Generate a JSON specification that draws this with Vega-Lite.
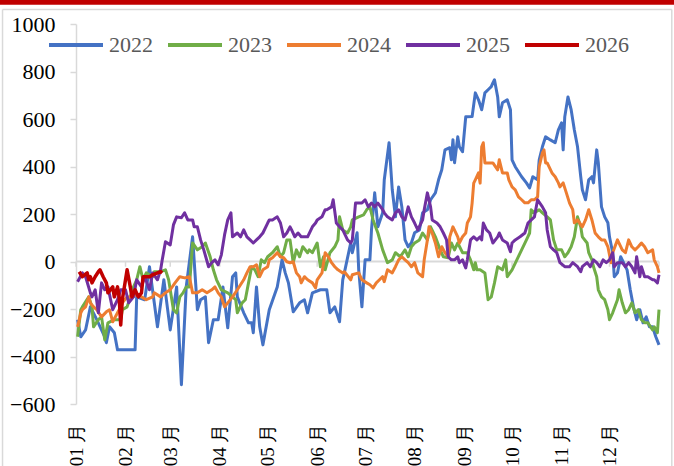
{
"$schema": "https://vega.github.io/schema/vega-lite/v6.json",
"width": 583, "height": 380,
"autosize": "none",
"padding": {"left": 76, "top": 24, "right": 15, "bottom": 62},
"background": "white",
"config": {"view": {"stroke": null}, "font": "Liberation Serif"},
"datasets": {
"months": [{"t":0},{"t":31},{"t":59},{"t":90},{"t":120},{"t":151},{"t":181},{"t":212},{"t":243},{"t":273},{"t":304},{"t":334},{"t":365}],
"y2022": [{"t":1,"v":-245},{"t":3,"v":-317},{"t":6,"v":-288},{"t":9,"v":-191},{"t":13,"v":-245},{"t":18,"v":-317},{"t":19,"v":-342},{"t":21,"v":-275},{"t":24,"v":-300},{"t":26,"v":-372},{"t":37,"v":-372},{"t":38,"v":-149},{"t":43,"v":-161},{"t":46,"v":-22},{"t":51,"v":-275},{"t":55,"v":-77},{"t":59,"v":-288},{"t":63,"v":-107},{"t":66,"v":-519},{"t":69,"v":-107},{"t":73,"v":104},{"t":76,"v":-203},{"t":78,"v":-161},{"t":81,"v":-149},{"t":83,"v":-342},{"t":86,"v":-245},{"t":89,"v":-245},{"t":92,"v":-107},{"t":95,"v":-279},{"t":98,"v":-64},{"t":100,"v":-48},{"t":101,"v":-149},{"t":105,"v":-216},{"t":108,"v":-258},{"t":110,"v":-258},{"t":111,"v":-300},{"t":113,"v":-107},{"t":115,"v":-275},{"t":117,"v":-351},{"t":121,"v":-203},{"t":126,"v":-107},{"t":129,"v":7},{"t":131,"v":-48},{"t":133,"v":-90},{"t":136,"v":-212},{"t":140,"v":-174},{"t":143,"v":-161},{"t":145,"v":-216},{"t":148,"v":-132},{"t":153,"v":-119},{"t":157,"v":-119},{"t":159,"v":-216},{"t":162,"v":-191},{"t":165,"v":-254},{"t":167,"v":-77},{"t":168,"v":-48},{"t":172,"v":79},{"t":173,"v":37},{"t":176,"v":121},{"t":177,"v":-35},{"t":179,"v":-191},{"t":181,"v":7},{"t":184,"v":7},{"t":185,"v":133},{"t":187,"v":289},{"t":189,"v":146},{"t":192,"v":205},{"t":193,"v":344},{"t":196,"v":500},{"t":198,"v":302},{"t":200,"v":188},{"t":202,"v":314},{"t":204,"v":230},{"t":206,"v":91},{"t":208,"v":62},{"t":210,"v":79},{"t":212,"v":121},{"t":215,"v":133},{"t":217,"v":205},{"t":220,"v":218},{"t":222,"v":260},{"t":225,"v":289},{"t":227,"v":344},{"t":229,"v":386},{"t":231,"v":470},{"t":234,"v":479},{"t":235,"v":428},{"t":236,"v":513},{"t":237,"v":416},{"t":239,"v":525},{"t":240,"v":483},{"t":242,"v":462},{"t":244,"v":609},{"t":245,"v":609},{"t":248,"v":610},{"t":250,"v":710},{"t":252,"v":681},{"t":254,"v":639},{"t":256,"v":710},{"t":258,"v":723},{"t":260,"v":736},{"t":261,"v":752},{"t":262,"v":765},{"t":264,"v":693},{"t":265,"v":609},{"t":267,"v":668},{"t":270,"v":681},{"t":272,"v":639},{"t":273,"v":428},{"t":275,"v":399},{"t":279,"v":357},{"t":282,"v":331},{"t":284,"v":310},{"t":286,"v":357},{"t":289,"v":344},{"t":290,"v":428},{"t":292,"v":483},{"t":294,"v":525},{"t":297,"v":512},{"t":300,"v":500},{"t":302,"v":554},{"t":304,"v":584},{"t":305,"v":470},{"t":306,"v":609},{"t":308,"v":693},{"t":310,"v":639},{"t":312,"v":554},{"t":314,"v":483},{"t":316,"v":357},{"t":317,"v":302},{"t":319,"v":260},{"t":321,"v":344},{"t":323,"v":357},{"t":324,"v":331},{"t":326,"v":470},{"t":327,"v":416},{"t":329,"v":230},{"t":331,"v":188},{"t":333,"v":163},{"t":334,"v":104},{"t":336,"v":37},{"t":337,"v":-64},{"t":339,"v":-48},{"t":341,"v":20},{"t":342,"v":7},{"t":345,"v":-35},{"t":347,"v":-119},{"t":349,"v":-191},{"t":351,"v":-245},{"t":353,"v":-203},{"t":355,"v":-258},{"t":357,"v":-233},{"t":359,"v":-275},{"t":361,"v":-275},{"t":363,"v":-317},{"t":365,"v":-351}],
"y2023": [{"t":1,"v":-317},{"t":3,"v":-203},{"t":4,"v":-191},{"t":8,"v":-149},{"t":10,"v":-191},{"t":11,"v":-275},{"t":14,"v":-245},{"t":16,"v":-233},{"t":18,"v":-330},{"t":20,"v":-258},{"t":24,"v":-245},{"t":28,"v":-245},{"t":29,"v":-203},{"t":32,"v":-191},{"t":34,"v":-149},{"t":36,"v":-107},{"t":38,"v":-77},{"t":40,"v":-22},{"t":42,"v":-77},{"t":44,"v":-48},{"t":48,"v":-64},{"t":49,"v":-43},{"t":53,"v":-43},{"t":56,"v":-35},{"t":58,"v":-77},{"t":61,"v":-203},{"t":63,"v":-216},{"t":65,"v":-149},{"t":67,"v":-132},{"t":69,"v":-107},{"t":71,"v":-107},{"t":73,"v":78},{"t":76,"v":49},{"t":79,"v":62},{"t":81,"v":78},{"t":84,"v":20},{"t":86,"v":-35},{"t":88,"v":-77},{"t":91,"v":-119},{"t":95,"v":-132},{"t":98,"v":-149},{"t":100,"v":-161},{"t":101,"v":-216},{"t":104,"v":-174},{"t":106,"v":-161},{"t":108,"v":-90},{"t":110,"v":-22},{"t":112,"v":-35},{"t":114,"v":-64},{"t":116,"v":7},{"t":118,"v":-5},{"t":120,"v":20},{"t":123,"v":37},{"t":126,"v":62},{"t":128,"v":20},{"t":130,"v":37},{"t":132,"v":91},{"t":134,"v":91},{"t":136,"v":-5},{"t":138,"v":49},{"t":140,"v":20},{"t":142,"v":62},{"t":145,"v":37},{"t":146,"v":49},{"t":148,"v":37},{"t":151,"v":78},{"t":153,"v":-22},{"t":155,"v":20},{"t":156,"v":-35},{"t":159,"v":37},{"t":162,"v":62},{"t":164,"v":91},{"t":165,"v":188},{"t":167,"v":133},{"t":170,"v":120},{"t":172,"v":146},{"t":173,"v":175},{"t":177,"v":188},{"t":180,"v":196},{"t":182,"v":218},{"t":184,"v":230},{"t":186,"v":175},{"t":189,"v":120},{"t":192,"v":49},{"t":195,"v":-5},{"t":198,"v":7},{"t":200,"v":37},{"t":203,"v":20},{"t":206,"v":49},{"t":208,"v":20},{"t":210,"v":62},{"t":212,"v":78},{"t":215,"v":91},{"t":217,"v":120},{"t":220,"v":91},{"t":222,"v":146},{"t":225,"v":104},{"t":228,"v":49},{"t":230,"v":20},{"t":233,"v":16},{"t":235,"v":78},{"t":237,"v":49},{"t":239,"v":78},{"t":242,"v":37},{"t":245,"v":37},{"t":247,"v":7},{"t":249,"v":-35},{"t":250,"v":-5},{"t":251,"v":-35},{"t":253,"v":-35},{"t":256,"v":-48},{"t":258,"v":-161},{"t":260,"v":-149},{"t":262,"v":-90},{"t":264,"v":-22},{"t":267,"v":-35},{"t":269,"v":7},{"t":270,"v":-64},{"t":273,"v":-35},{"t":276,"v":7},{"t":279,"v":49},{"t":282,"v":91},{"t":284,"v":120},{"t":285,"v":218},{"t":287,"v":205},{"t":290,"v":218},{"t":292,"v":205},{"t":295,"v":188},{"t":297,"v":175},{"t":299,"v":91},{"t":301,"v":49},{"t":304,"v":49},{"t":306,"v":20},{"t":308,"v":37},{"t":310,"v":62},{"t":312,"v":104},{"t":314,"v":188},{"t":316,"v":146},{"t":317,"v":104},{"t":320,"v":78},{"t":321,"v":37},{"t":323,"v":7},{"t":324,"v":-22},{"t":326,"v":-64},{"t":327,"v":-119},{"t":329,"v":-149},{"t":331,"v":-161},{"t":333,"v":-203},{"t":334,"v":-245},{"t":336,"v":-216},{"t":339,"v":-161},{"t":340,"v":-119},{"t":342,"v":-174},{"t":344,"v":-216},{"t":346,"v":-203},{"t":348,"v":-174},{"t":350,"v":-216},{"t":352,"v":-203},{"t":354,"v":-245},{"t":356,"v":-258},{"t":358,"v":-258},{"t":361,"v":-288},{"t":362,"v":-275},{"t":364,"v":-300},{"t":365,"v":-203}],
"y2024": [{"t":1,"v":-275},{"t":3,"v":-216},{"t":4,"v":-203},{"t":6,"v":-191},{"t":8,"v":-149},{"t":9,"v":-174},{"t":11,"v":-191},{"t":13,"v":-203},{"t":16,"v":-233},{"t":19,"v":-212},{"t":21,"v":-203},{"t":23,"v":-254},{"t":26,"v":-216},{"t":28,"v":-191},{"t":29,"v":-174},{"t":32,"v":-149},{"t":35,"v":-149},{"t":38,"v":-140},{"t":41,"v":-149},{"t":44,"v":-161},{"t":48,"v":-149},{"t":49,"v":-132},{"t":53,"v":-149},{"t":56,"v":-132},{"t":59,"v":-119},{"t":62,"v":-90},{"t":65,"v":-64},{"t":68,"v":-69},{"t":71,"v":-64},{"t":73,"v":-132},{"t":76,"v":-132},{"t":79,"v":-119},{"t":82,"v":-132},{"t":85,"v":-119},{"t":87,"v":-107},{"t":89,"v":-132},{"t":91,"v":-149},{"t":93,"v":-191},{"t":95,"v":-174},{"t":98,"v":-149},{"t":101,"v":-119},{"t":105,"v":-77},{"t":107,"v":-48},{"t":109,"v":-22},{"t":111,"v":-22},{"t":113,"v":-14},{"t":115,"v":-64},{"t":117,"v":-35},{"t":120,"v":-22},{"t":121,"v":7},{"t":123,"v":16},{"t":126,"v":37},{"t":128,"v":20},{"t":130,"v":16},{"t":132,"v":-1},{"t":134,"v":-5},{"t":136,"v":-1},{"t":138,"v":-48},{"t":140,"v":-64},{"t":141,"v":-90},{"t":143,"v":-64},{"t":145,"v":-77},{"t":148,"v":-90},{"t":150,"v":-111},{"t":151,"v":-77},{"t":154,"v":-48},{"t":156,"v":37},{"t":158,"v":20},{"t":160,"v":-5},{"t":162,"v":-22},{"t":164,"v":-35},{"t":167,"v":-48},{"t":168,"v":-43},{"t":172,"v":-77},{"t":173,"v":-56},{"t":177,"v":-48},{"t":179,"v":-77},{"t":182,"v":-90},{"t":184,"v":-98},{"t":186,"v":-111},{"t":188,"v":-90},{"t":190,"v":-77},{"t":192,"v":-64},{"t":193,"v":-85},{"t":195,"v":-35},{"t":198,"v":-48},{"t":200,"v":-22},{"t":202,"v":7},{"t":204,"v":20},{"t":206,"v":7},{"t":208,"v":-5},{"t":210,"v":-22},{"t":212,"v":-5},{"t":214,"v":-48},{"t":217,"v":-64},{"t":218,"v":7},{"t":220,"v":91},{"t":221,"v":146},{"t":223,"v":120},{"t":225,"v":78},{"t":227,"v":20},{"t":229,"v":62},{"t":231,"v":37},{"t":233,"v":20},{"t":234,"v":104},{"t":236,"v":146},{"t":239,"v":104},{"t":240,"v":78},{"t":242,"v":104},{"t":244,"v":120},{"t":245,"v":162},{"t":247,"v":188},{"t":248,"v":246},{"t":249,"v":330},{"t":250,"v":344},{"t":252,"v":373},{"t":253,"v":330},{"t":254,"v":483},{"t":255,"v":500},{"t":256,"v":415},{"t":258,"v":415},{"t":261,"v":415},{"t":264,"v":386},{"t":265,"v":428},{"t":267,"v":373},{"t":270,"v":373},{"t":271,"v":344},{"t":273,"v":314},{"t":275,"v":302},{"t":277,"v":272},{"t":279,"v":260},{"t":281,"v":247},{"t":283,"v":247},{"t":285,"v":260},{"t":287,"v":260},{"t":289,"v":272},{"t":290,"v":399},{"t":292,"v":457},{"t":293,"v":470},{"t":294,"v":415},{"t":295,"v":415},{"t":298,"v":373},{"t":300,"v":357},{"t":302,"v":331},{"t":303,"v":314},{"t":305,"v":331},{"t":307,"v":289},{"t":309,"v":246},{"t":311,"v":218},{"t":312,"v":163},{"t":314,"v":175},{"t":317,"v":146},{"t":319,"v":175},{"t":321,"v":218},{"t":323,"v":175},{"t":325,"v":120},{"t":327,"v":104},{"t":329,"v":91},{"t":331,"v":91},{"t":333,"v":62},{"t":335,"v":-5},{"t":336,"v":37},{"t":339,"v":91},{"t":342,"v":49},{"t":344,"v":37},{"t":346,"v":91},{"t":348,"v":62},{"t":350,"v":49},{"t":352,"v":62},{"t":354,"v":78},{"t":356,"v":62},{"t":358,"v":37},{"t":361,"v":49},{"t":362,"v":7},{"t":364,"v":-22},{"t":365,"v":-48}],
"y2025": [{"t":1,"v":-85},{"t":4,"v":-48},{"t":6,"v":-64},{"t":9,"v":-132},{"t":10,"v":-149},{"t":12,"v":-119},{"t":14,"v":-216},{"t":16,"v":-90},{"t":18,"v":-119},{"t":20,"v":-107},{"t":23,"v":-203},{"t":26,"v":-161},{"t":28,"v":-119},{"t":31,"v":-119},{"t":33,"v":-174},{"t":36,"v":-149},{"t":38,"v":-77},{"t":41,"v":-107},{"t":43,"v":-64},{"t":46,"v":-119},{"t":48,"v":-48},{"t":51,"v":-77},{"t":53,"v":-35},{"t":54,"v":7},{"t":56,"v":83},{"t":59,"v":70},{"t":61,"v":154},{"t":63,"v":188},{"t":66,"v":184},{"t":68,"v":205},{"t":70,"v":175},{"t":73,"v":175},{"t":74,"v":146},{"t":76,"v":146},{"t":78,"v":91},{"t":80,"v":49},{"t":83,"v":-22},{"t":85,"v":-5},{"t":87,"v":7},{"t":89,"v":-14},{"t":91,"v":28},{"t":93,"v":112},{"t":95,"v":175},{"t":97,"v":205},{"t":98,"v":104},{"t":101,"v":120},{"t":103,"v":104},{"t":105,"v":133},{"t":107,"v":104},{"t":109,"v":91},{"t":111,"v":78},{"t":113,"v":91},{"t":115,"v":104},{"t":117,"v":120},{"t":120,"v":162},{"t":121,"v":175},{"t":123,"v":175},{"t":126,"v":188},{"t":128,"v":162},{"t":130,"v":104},{"t":132,"v":120},{"t":134,"v":146},{"t":135,"v":133},{"t":137,"v":104},{"t":139,"v":120},{"t":141,"v":104},{"t":143,"v":104},{"t":145,"v":104},{"t":148,"v":146},{"t":150,"v":162},{"t":151,"v":175},{"t":154,"v":188},{"t":156,"v":218},{"t":157,"v":218},{"t":160,"v":230},{"t":161,"v":260},{"t":163,"v":162},{"t":165,"v":146},{"t":167,"v":133},{"t":170,"v":91},{"t":172,"v":78},{"t":173,"v":91},{"t":175,"v":246},{"t":177,"v":246},{"t":179,"v":246},{"t":181,"v":260},{"t":183,"v":230},{"t":185,"v":246},{"t":187,"v":230},{"t":189,"v":246},{"t":192,"v":218},{"t":193,"v":205},{"t":195,"v":188},{"t":198,"v":175},{"t":200,"v":205},{"t":202,"v":218},{"t":204,"v":188},{"t":206,"v":175},{"t":208,"v":230},{"t":210,"v":188},{"t":212,"v":162},{"t":214,"v":133},{"t":217,"v":175},{"t":218,"v":218},{"t":220,"v":289},{"t":222,"v":230},{"t":223,"v":175},{"t":226,"v":162},{"t":228,"v":146},{"t":230,"v":120},{"t":232,"v":91},{"t":233,"v":20},{"t":235,"v":7},{"t":237,"v":7},{"t":239,"v":20},{"t":240,"v":-5},{"t":242,"v":7},{"t":244,"v":-27},{"t":245,"v":7},{"t":247,"v":91},{"t":249,"v":104},{"t":251,"v":91},{"t":253,"v":104},{"t":254,"v":91},{"t":255,"v":162},{"t":257,"v":133},{"t":259,"v":120},{"t":261,"v":78},{"t":264,"v":104},{"t":265,"v":120},{"t":267,"v":91},{"t":270,"v":78},{"t":272,"v":41},{"t":273,"v":78},{"t":275,"v":91},{"t":278,"v":104},{"t":281,"v":120},{"t":283,"v":162},{"t":285,"v":175},{"t":287,"v":188},{"t":289,"v":260},{"t":292,"v":230},{"t":294,"v":205},{"t":295,"v":133},{"t":297,"v":62},{"t":299,"v":49},{"t":301,"v":37},{"t":303,"v":-5},{"t":306,"v":-22},{"t":309,"v":-22},{"t":311,"v":-5},{"t":314,"v":-22},{"t":316,"v":-43},{"t":317,"v":-22},{"t":320,"v":-5},{"t":322,"v":-22},{"t":324,"v":7},{"t":326,"v":-5},{"t":328,"v":-22},{"t":330,"v":7},{"t":332,"v":-5},{"t":334,"v":7},{"t":336,"v":37},{"t":337,"v":-22},{"t":339,"v":-5},{"t":342,"v":-5},{"t":344,"v":-22},{"t":346,"v":-5},{"t":348,"v":-22},{"t":350,"v":-48},{"t":351,"v":20},{"t":353,"v":-64},{"t":354,"v":-22},{"t":356,"v":-64},{"t":358,"v":-64},{"t":361,"v":-77},{"t":362,"v":-77},{"t":364,"v":-90},{"t":365,"v":-56}],
"y2026": [{"t":2,"v":-43},{"t":4,"v":-64},{"t":7,"v":-48},{"t":8,"v":-77},{"t":9,"v":-64},{"t":10,"v":-90},{"t":12,"v":-64},{"t":14,"v":-43},{"t":15,"v":-35},{"t":17,"v":-64},{"t":19,"v":-90},{"t":20,"v":-132},{"t":23,"v":-107},{"t":24,"v":-149},{"t":26,"v":-107},{"t":27,"v":-149},{"t":28,"v":-267},{"t":29,"v":-161},{"t":30,"v":-119},{"t":32,"v":-35},{"t":34,"v":-107},{"t":35,"v":-149},{"t":37,"v":-119},{"t":39,"v":-149},{"t":41,"v":-132},{"t":42,"v":-64},{"t":44,"v":-64},{"t":46,"v":-64},{"t":48,"v":-56},{"t":51,"v":-48},{"t":53,"v":-43},{"t":54,"v":-48}]
},
"layer": [
{"data": {"values": [{}]}, "mark": {"type": "rule", "color": "#C00000", "strokeWidth": 5}, "encoding": {"x": {"datum": -48, "type": "quantitative"}, "x2": {"datum": 376}, "y": {"datum": 1092, "type": "quantitative"}}},
{"data": {"values": [{}]}, "mark": {"type": "rule", "color": "#D9D9D9", "strokeWidth": 1.5}, "encoding": {"x": {"datum": -46, "type": "quantitative"}, "x2": {"datum": 373}, "y": {"datum": 1061, "type": "quantitative"}}},
{"data": {"values": [{}]}, "mark": {"type": "rule", "color": "#D9D9D9", "strokeWidth": 1.5}, "encoding": {"x": {"datum": -46, "type": "quantitative"}, "y": {"datum": 1061, "type": "quantitative"}, "y2": {"datum": -900}}},
{"data": {"values": [{}]}, "mark": {"type": "rule", "color": "#D9D9D9", "strokeWidth": 1.5}, "encoding": {"x": {"datum": 373, "type": "quantitative"}, "y": {"datum": 1061, "type": "quantitative"}, "y2": {"datum": -900}}},
{"data": {"name": "months"}, "mark": {"type": "rule", "color": "#D9D9D9", "strokeWidth": 1.5}, "encoding": {"x": {"field": "t", "type": "quantitative"}, "y": {"datum": 0, "type": "quantitative"}, "y2": {"datum": -22}}},
{"data": {"values": [{}]}, "mark": {"type": "rule", "color": "#D9D9D9", "strokeWidth": 2}, "encoding": {"y": {"datum": 0, "type": "quantitative"}}},
{"encoding": {
  "x": {"field": "t", "type": "quantitative", "scale": {"domain": [0, 365], "nice": false, "zero": false},
        "axis": {"values": [0,31,59,90,120,151,181,212,243,273,304,334], "labelExpr": "['01 月','02 月','03 月','04 月','05 月','06 月','07 月','08 月','09 月','10 月','11 月','12 月'][indexof([0,31,59,90,120,151,181,212,243,273,304,334], datum.value)]", "labelAngle": -90, "labelPadding": 19, "labelFontSize": 19, "labelFont": "Liberation Serif", "labelColor": "#000000", "domain": false, "ticks": false, "grid": false, "title": null, "labelOverlap": false}},
  "y": {"field": "v", "type": "quantitative", "scale": {"domain": [-600, 1000], "nice": false},
        "axis": {"values": [-600,-400,-200,0,200,400,600,800,1000], "format": "d", "labelFontSize": 22, "labelFont": "Liberation Serif", "labelColor": "#000000", "labelPadding": 15, "tickSize": 6, "tickColor": "#D9D9D9", "domainColor": "#D9D9D9", "domainWidth": 1.5, "tickWidth": 1.5, "grid": false, "title": null}}
 },
 "layer": [
 {"data": {"name": "y2022"}, "mark": {"type": "line", "strokeWidth": 3, "strokeJoin": "round"},
  "encoding": {"color": {"datum": "2022", "type": "nominal",
    "scale": {"domain": ["2022","2023","2024","2025","2026"], "range": ["#4472C4","#70AD47","#ED7D31","#7030A0","#C00000"]},
    "legend": {"orient": "none", "direction": "horizontal", "legendX": -29, "legendY": -8, "title": null, "symbolType": "stroke", "symbolSize": 2916, "symbolStrokeWidth": 4, "labelFontSize": 22, "labelFont": "Liberation Serif", "labelColor": "#595959", "columnPadding": 7, "labelOffset": 4, "padding": 0}}}},
 {"data": {"name": "y2023"}, "mark": {"type": "line", "strokeWidth": 3, "strokeJoin": "round"}, "encoding": {"color": {"datum": "2023", "type": "nominal"}}},
 {"data": {"name": "y2024"}, "mark": {"type": "line", "strokeWidth": 3, "strokeJoin": "round"}, "encoding": {"color": {"datum": "2024", "type": "nominal"}}},
 {"data": {"name": "y2025"}, "mark": {"type": "line", "strokeWidth": 3, "strokeJoin": "round"}, "encoding": {"color": {"datum": "2025", "type": "nominal"}}},
 {"data": {"name": "y2026"}, "mark": {"type": "line", "strokeWidth": 3.5, "strokeJoin": "round"}, "encoding": {"color": {"datum": "2026", "type": "nominal"}}}
 ]}
]
}
